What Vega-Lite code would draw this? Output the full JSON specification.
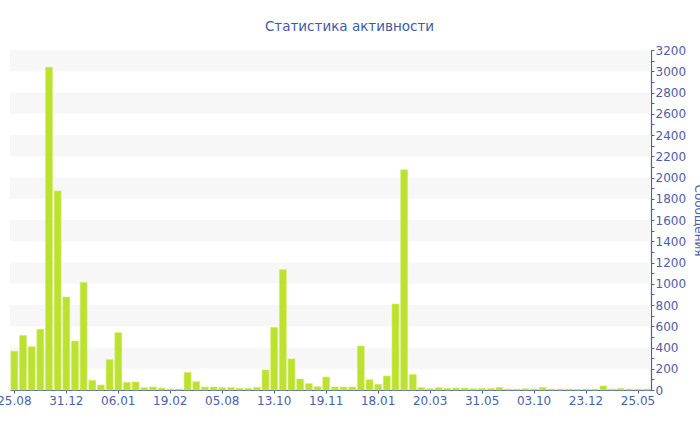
{
  "$schema": "https://vega.github.io/schema/vega-lite/v6.json",
  "autosize": "none",
  "width": 641,
  "height": 340,
  "padding": {"left": 10, "top": 50, "right": 49, "bottom": 40},
  "background": "white",
  "title": {
    "text": "Статистика активности",
    "font": "DejaVu Sans",
    "fontSize": 13.5,
    "fontWeight": "normal",
    "color": "#4159a6",
    "anchor": "middle",
    "offset": 11,
    "dx": 19
  },
  "config": {
    "view": {"stroke": null},
    "axis": {"labelFont": "DejaVu Sans", "titleFont": "DejaVu Sans", "labelColor": "#4b5ea8", "titleColor": "#4b5ea8", "domainColor": "#4b5ea8", "tickColor": "#4b5ea8"},
    "axisY": {
      "orient": "right",
      "titleFontSize": 12,
      "titleFontWeight": "normal",
      "titlePadding": 6,
      "labelFontSize": 12,
      "labelPadding": 1,
      "tickSize": 3,
      "grid": false,
      "domainWidth": 1.2
    }
  },
  "datasets": {
    "bands": [
      {"b0": 200, "b1": 400},
      {"b0": 600, "b1": 800},
      {"b0": 1000, "b1": 1200},
      {"b0": 1400, "b1": 1600},
      {"b0": 1800, "b1": 2000},
      {"b0": 2200, "b1": 2400},
      {"b0": 2600, "b1": 2800},
      {"b0": 3000, "b1": 3200}
    ],
    "bars": [
      {"i": 0, "n": 365}, {"i": 1, "n": 514}, {"i": 2, "n": 408}, {"i": 3, "n": 571},
      {"i": 4, "n": 3037}, {"i": 5, "n": 1873}, {"i": 6, "n": 875}, {"i": 7, "n": 461},
      {"i": 8, "n": 1013}, {"i": 9, "n": 91}, {"i": 10, "n": 47}, {"i": 11, "n": 286},
      {"i": 12, "n": 540}, {"i": 13, "n": 72}, {"i": 14, "n": 75}, {"i": 15, "n": 22},
      {"i": 16, "n": 28}, {"i": 17, "n": 19}, {"i": 18, "n": 9}, {"i": 19, "n": 9},
      {"i": 20, "n": 166}, {"i": 21, "n": 78}, {"i": 22, "n": 28}, {"i": 23, "n": 28},
      {"i": 24, "n": 22}, {"i": 25, "n": 22}, {"i": 26, "n": 16}, {"i": 27, "n": 16},
      {"i": 28, "n": 25}, {"i": 29, "n": 188}, {"i": 30, "n": 590}, {"i": 31, "n": 1133},
      {"i": 32, "n": 292}, {"i": 33, "n": 103}, {"i": 34, "n": 60}, {"i": 35, "n": 31},
      {"i": 36, "n": 122}, {"i": 37, "n": 28}, {"i": 38, "n": 28}, {"i": 39, "n": 28},
      {"i": 40, "n": 414}, {"i": 41, "n": 97}, {"i": 42, "n": 53}, {"i": 43, "n": 132},
      {"i": 44, "n": 809}, {"i": 45, "n": 2074}, {"i": 46, "n": 146}, {"i": 47, "n": 22},
      {"i": 48, "n": 12}, {"i": 49, "n": 22}, {"i": 50, "n": 16}, {"i": 51, "n": 19},
      {"i": 52, "n": 19}, {"i": 53, "n": 12}, {"i": 54, "n": 16}, {"i": 55, "n": 16},
      {"i": 56, "n": 25}, {"i": 57, "n": 9}, {"i": 58, "n": 9}, {"i": 59, "n": 12},
      {"i": 60, "n": 9}, {"i": 61, "n": 25}, {"i": 62, "n": 9}, {"i": 63, "n": 9},
      {"i": 64, "n": 9}, {"i": 65, "n": 6}, {"i": 66, "n": 9}, {"i": 67, "n": 9},
      {"i": 68, "n": 38}, {"i": 69, "n": 9}, {"i": 70, "n": 16}, {"i": 71, "n": 9},
      {"i": 72, "n": 9}, {"i": 73, "n": 9}
    ]
  },
  "layer": [
    {
      "data": {"name": "bands"},
      "mark": {"type": "rect", "color": "#f7f7f7"},
      "encoding": {
        "y": {
          "field": "b0",
          "type": "quantitative",
          "scale": {"domain": [0, 3200], "nice": false},
          "axis": {
            "title": "Сообщения",
            "values": [0,100,200,300,400,500,600,700,800,900,1000,1100,1200,1300,1400,1500,1600,1700,1800,1900,2000,2100,2200,2300,2400,2500,2600,2700,2800,2900,3000,3100,3200],
            "labelExpr": "datum.value % 200 == 0 ? datum.value : ''"
          }
        },
        "y2": {"field": "b1"}
      }
    },
    {
      "data": {"name": "bars"},
      "mark": {"type": "bar", "color": "#bde130", "stroke": "#d2ec6a", "strokeWidth": 0.6},
      "encoding": {
        "x": {
          "field": "i",
          "type": "ordinal",
          "scale": {"paddingInner": 0.2, "paddingOuter": 0.1},
          "axis": {
            "title": null,
            "values": [0, 6, 12, 18, 24, 30, 36, 42, 48, 54, 60, 66, 72],
            "labelExpr": "['25.08','31.12','06.01','19.02','05.08','13.10','19.11','18.01','20.03','31.05','03.10','23.12','25.05'][datum.value / 6]",
            "labelAngle": 0,
            "labelFontSize": 12,
            "labelPadding": 2,
            "tickSize": 3,
            "domainWidth": 1.2
          }
        },
        "y": {
          "field": "n",
          "type": "quantitative",
          "scale": {"domain": [0, 3200], "nice": false},
          "axis": {
            "title": "Сообщения",
            "values": [0,100,200,300,400,500,600,700,800,900,1000,1100,1200,1300,1400,1500,1600,1700,1800,1900,2000,2100,2200,2300,2400,2500,2600,2700,2800,2900,3000,3100,3200],
            "labelExpr": "datum.value % 200 == 0 ? datum.value : ''"
          }
        }
      }
    }
  ]
}
